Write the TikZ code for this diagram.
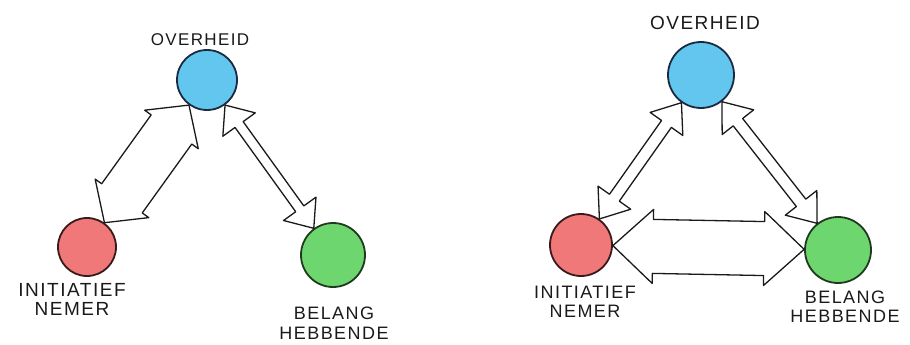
\documentclass[tikz,border=0pt]{standalone}
\usepackage{fontspec}
\newfontfamily\handfont[LetterSpace=8]{Liberation Sans}
\usetikzlibrary{calc}
\definecolor{bluefill}{HTML}{63C6EE}
\definecolor{blueline}{HTML}{1A2A40}
\definecolor{redfill}{HTML}{F07878}
\definecolor{redline}{HTML}{3A1A1A}
\definecolor{greenfill}{HTML}{6ED66E}
\definecolor{greenline}{HTML}{1F3A1F}
\definecolor{ink}{HTML}{1A1A1A}
\tikzset{
  party/.style={circle, inner sep=0pt, line width=1.8pt},
  gov/.style={party, fill=bluefill, draw=blueline},
  ini/.style={party, fill=redfill, draw=redline},
  bel/.style={party, fill=greenfill, draw=greenline},
  lbl/.style={text=ink, align=center, inner sep=0pt, font=\handfont\fontsize{18}{19}\selectfont},
  arrowline/.style={draw=ink, fill=white, line width=1.3pt, line join=round},
}
% #1 from node, #2 to node, #3 shaft half width, #4 head half width, #5 head length
\newcommand\fatarrow[5]{%
  \path (#1) -- (#2) coordinate[pos=0] (fa-a) coordinate[pos=1] (fa-b);
  \coordinate (fa-h1) at ($(fa-a)!#5!(fa-b)$);
  \coordinate (fa-h2) at ($(fa-b)!#5!(fa-a)$);
  \draw[arrowline] (fa-a) -- ($(fa-h1)!#4!90:(fa-b)$) -- ($(fa-h1)!#3!90:(fa-b)$)
    -- ($(fa-h2)!#3!-90:(fa-a)$) -- ($(fa-h2)!#4!-90:(fa-a)$) -- (fa-b)
    -- ($(fa-h2)!#4!90:(fa-a)$) -- ($(fa-h2)!#3!90:(fa-a)$)
    -- ($(fa-h1)!#3!-90:(fa-b)$) -- ($(fa-h1)!#4!-90:(fa-b)$) -- cycle;
}
\begin{document}
\begin{tikzpicture}[x=1pt,y=-1pt]
\useasboundingbox (0,0) rectangle (910,345);
% left diagram
\node[gov, minimum size=60pt] (gov1) at (207,80) {};
\node[ini, minimum size=58pt] (ini1) at (87,247) {};
\node[bel, minimum size=64pt] (bel1) at (333,255) {};
\node[lbl, font=\handfont\fontsize{17}{19}\selectfont] (tgov1) at (200,40) {OVERHEID};
\node[lbl, font=\handfont\fontsize{19}{19}\selectfont] (tini1) at (72,299) {INITIATIEF\\NEMER};
\node[lbl, font=\handfont\fontsize{18}{20}\selectfont] (tbel1) at (334,323) {BELANG\\HEBBENDE};
\fatarrow{ini1}{gov1}{25pt}{33pt}{30pt}
\fatarrow{gov1}{bel1}{5pt}{20pt}{24pt}
% right diagram
\node[gov, minimum size=66pt] (gov2) at (701,75) {};
\node[ini, minimum size=62pt] (ini2) at (581,245) {};
\node[bel, minimum size=66pt] (bel2) at (838,250) {};
\node[lbl, font=\handfont\fontsize{19}{19}\selectfont] (tgov2) at (705,23) {OVERHEID};
\node[lbl, font=\handfont\fontsize{18}{19}\selectfont] (tini2) at (585,302) {INITIATIEF\\NEMER};
\node[lbl, font=\handfont\fontsize{18}{19}\selectfont] (tbel2) at (845,307) {BELANG\\HEBBENDE};
\fatarrow{ini2}{gov2}{6pt}{20pt}{26pt}
\fatarrow{gov2}{bel2}{6pt}{20pt}{26pt}
\fatarrow{ini2}{bel2}{27pt}{37pt}{40pt}
\end{tikzpicture}
\end{document}
